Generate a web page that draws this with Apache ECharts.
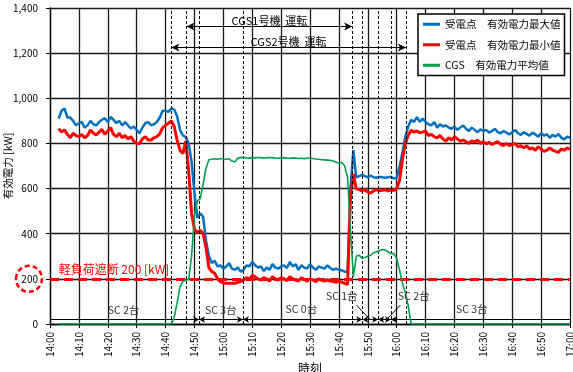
<!DOCTYPE html>
<html><head><meta charset="utf-8">
<script src="https://cdn.jsdelivr.net/npm/echarts@6/dist/echarts.min.js"></script>
<style>html,body{margin:0;padding:0;background:#fff}#c{width:573px;height:372px}</style>
</head><body><div id="c"></div>
<script>
// ---- data (minutes after 14:00; one value per minute from startMinute) ----
const startMinute = 3;
const timeLabels = ['14:00','14:10','14:20','14:30','14:40','14:50','15:00','15:10','15:20','15:30','15:40','15:50','16:00','16:10','16:20','16:30','16:40','16:50','17:00'];
const seriesNames = ['受電点　有効電力最大値','受電点　有効電力最小値','CGS　有効電力平均値'];
const maxPower = [
 910,945,955,915,915,900,880,890,895,870,
 880,900,885,880,895,905,912,895,917,905,
 890,900,880,895,880,866,875,860,845,870,
 890,895,880,885,895,915,945,945,940,955,
 950,920,860,835,829,800,720,580,470,490,
 475,370,300,270,280,255,260,245,255,270,
 245,240,250,232,240,260,255,275,260,250,
 255,235,250,240,265,250,245,255,260,248,
 275,255,265,240,260,250,245,265,250,240,
 255,250,245,260,248,240,245,240,238,232,
 232,600,770,650,655,660,655,650,658,650,
 648,652,650,648,650,652,645,648,696,760,
 830,875,905,895,917,895,910,895,885,880,
 895,870,885,875,880,870,865,875,860,870,
 880,865,855,870,860,850,862,855,860,848,
 855,865,850,845,855,848,840,850,860,845,
 838,850,842,835,848,840,830,845,835,840,
 825,838,830,842,825,818,830,825];
const minPower = [
 865,850,860,840,825,845,835,830,840,825,
 835,860,845,838,850,862,840,855,870,840,
 830,845,825,835,820,830,810,800,800,820,
 830,815,815,825,830,843,870,880,890,900,
 875,815,770,755,810,680,490,420,405,415,
 400,340,250,232,225,200,188,182,180,180,
 180,180,185,188,195,205,200,215,210,200,
 195,205,200,190,210,200,195,205,200,192,
 210,200,195,190,205,198,190,200,195,188,
 200,195,190,195,190,188,185,190,185,180,
 175,560,665,600,595,590,595,585,580,590,
 595,590,592,595,590,593,592,600,637,730,
 800,835,858,850,855,848,850,855,835,840,
 830,825,835,820,810,825,815,830,820,810,
 815,808,800,812,805,815,800,808,798,805,
 795,802,808,795,790,800,790,795,800,785,
 790,780,790,775,780,770,785,775,765,770,
 780,770,765,760,775,770,780,775];
const cgsAverage = [
 0,0,0,0,0,0,0,0,0,0,
 0,0,0,0,0,0,0,0,0,0,
 0,0,0,0,0,0,0,0,0,0,
 0,0,0,0,0,0,0,0,0,0,
 30,95,165,188,195,198,300,480,545,555,
 620,690,728,730,732,730,733,731,730,732,
 722,718,735,737,738,736,735,737,736,738,
 737,735,736,738,737,735,734,736,737,735,
 734,736,735,733,734,732,735,734,733,731,
 730,728,727,726,725,722,718,712,716,700,
 650,420,210,300,305,292,295,300,305,315,
 320,325,330,328,320,312,313,290,240,180,
 140,80,0,0,0,0,0,0,0,0,
 0,0,0,0,0,0,0,0,0,0,
 0,0,0,0,0,0,0,0,0,0,
 0,0,0,0,0,0,0,0,0,0,
 0,0,0,0,0,0,0,0,0,0,
 0,0,0,0,0,0,0,0];
const eventTimes = [42, 47.3, 51.6, 66.8, 104.6, 108.1, 113.6, 118, 123.2];
const loadShedLevel = 200;
const cgsRuns = [
  {text: 'CGS1号機  運転', from: 47.3, to: 104.6},
  {text: 'CGS2号機  運転', from: 42, to: 123.2}
];
const scBoundaries = [51.6, 66.8, 108.1, 113.6, 118];
const scTexts = ['SC 2台','SC 3台','SC 0台','SC 1台','SC 2台','SC 3台'];
const shedText = '軽負荷遮断 200 [kW]';
const yName = '有効電力 [kW]';
const xName = '時刻';

// ---- annotation placement (data coordinates) ----
const cgsLevels = [1318, 1225];
const scLevel = 20;
const scTextPos = [[25.5,62],[59.1,62],[87,66],[101,124],[125.9,124],[146,66]];
const scLeaders = [[[106.1,84],[110.9,18]], [[121.3,84],[116.4,18]]];

const FONT = "'Noto Sans CJK JP', 'Noto Sans', sans-serif";
const pairs = arr => arr.map((v, i) => [startMinute + i, v]);

const chart = echarts.init(document.getElementById('c'), null, {renderer: 'canvas'});

const lineMarks = [];
eventTimes.forEach(t => lineMarks.push({xAxis: t, lineStyle: {color: '#000', width: 1, type: [3, 2]}}));
cgsRuns.forEach((r, i) => lineMarks.push([
  {coord: [r.from, cgsLevels[i]], symbol: 'arrow', symbolSize: [6, 8], lineStyle: {color: '#000', width: 1, type: 'solid'}},
  {coord: [r.to, cgsLevels[i]], symbol: 'arrow', symbolSize: [6, 8]}
]));
lineMarks.push([
  {coord: [0, scLevel], symbol: 'none', lineStyle: {color: '#000', width: 1.2, type: 'solid'}},
  {coord: [180, scLevel], symbol: 'none'}
]);
scBoundaries.forEach(b => {
  [-3, 3].forEach(d => lineMarks.push([
    {coord: [b + d, scLevel], symbol: 'none', lineStyle: {color: '#000', width: 1, type: 'solid'}},
    {coord: [b, scLevel], symbol: 'arrow', symbolSize: [5, 6]}
  ]));
});
scLeaders.forEach(l => lineMarks.push([
  {coord: l[0], symbol: 'none', lineStyle: {color: '#000', width: 1, type: 'solid'}},
  {coord: l[1], symbol: 'none'}
]));

const option = {
  animation: false,
  textStyle: {fontFamily: FONT},
  grid: {left: 50, right: 3, top: 8, bottom: 48, containLabel: false, outerBoundsMode: 'none'},
  legend: {
    data: seriesNames,
    orient: 'vertical',
    left: 418, top: 14,
    padding: [5, 4, 5, 5],
    itemGap: 10,
    itemWidth: 17, itemHeight: 3,
    icon: 'rect',
    backgroundColor: '#fff',
    borderColor: '#000', borderWidth: 1.5,
    textStyle: {fontSize: 10.5, color: '#000', fontFamily: FONT}
  },
  xAxis: {
    type: 'value', min: 0, max: 180, interval: 10,
    name: xName, nameLocation: 'middle', nameGap: 38, nameMoveOverlap: false,
    nameTextStyle: {fontSize: 12, color: '#000', fontFamily: FONT},
    axisLine: {lineStyle: {color: '#000', width: 1.3}},
    axisTick: {show: true, length: 4, lineStyle: {color: '#000'}},
    axisLabel: {rotate: 90, margin: 8, fontSize: 10, color: '#000', fontFamily: FONT,
      formatter: v => timeLabels[Math.round(v / 10)]},
    splitLine: {show: true, lineStyle: {color: '#1a1a1a', width: 1.3}}
  },
  yAxis: {
    type: 'value', min: 0, max: 1400, interval: 200,
    name: yName, nameLocation: 'middle', nameGap: 37, nameMoveOverlap: false,
    nameTextStyle: {fontSize: 10.5, color: '#000', fontFamily: FONT},
    axisLine: {show: true, lineStyle: {color: '#000', width: 1.3}},
    axisTick: {show: true, length: 4, lineStyle: {color: '#000'}},
    axisLabel: {margin: 12, fontSize: 10, color: '#000', fontFamily: FONT,
      formatter: v => v.toLocaleString('en-US')},
    splitLine: {show: true, lineStyle: {color: '#1a1a1a', width: 1.3}}
  },
  series: [
    {name: 'annotations', type: 'line', data: [], z: 1, silent: true,
     markLine: {silent: true, animation: false, symbol: ['none', 'none'], label: {show: false}, data: lineMarks}},
    {name: seriesNames[0], type: 'line', data: pairs(maxPower), symbol: 'none', z: 3,
     itemStyle: {color: '#0070C0'}, lineStyle: {color: '#0070C0', width: 2.5}},
    {name: seriesNames[1], type: 'line', data: pairs(minPower), symbol: 'none', z: 4,
     itemStyle: {color: '#FF0000'}, lineStyle: {color: '#FF0000', width: 3}},
    {name: seriesNames[2], type: 'line', data: pairs(cgsAverage), symbol: 'none', z: 5,
     itemStyle: {color: '#00A050'}, lineStyle: {color: '#00A050', width: 1.6}},
    {name: 'shed', type: 'line', data: [], z: 6, silent: true,
     markLine: {silent: true, animation: false, symbol: ['none', 'none'], label: {show: false},
       data: [{yAxis: loadShedLevel, lineStyle: {color: '#FF0000', width: 3, type: [9, 5]}}]}}
  ]
};
chart.setOption(option);

const px = (t, v) => chart.convertToPixel({gridIndex: 0}, [t, v]);
const graphics = [];
cgsRuns.forEach((r, i) => {
  const p = px((r.from + r.to) / 2, cgsLevels[i]);
  graphics.push({type: 'text', z: 10, style: {text: r.text, x: p[0], y: p[1] - 6, align: 'center', verticalAlign: 'middle',
    fill: '#000', fontSize: 11, fontFamily: FONT}});
});
scTexts.forEach((s, i) => {
  const p = px(scTextPos[i][0], scTextPos[i][1]);
  graphics.push({type: 'text', z: 10, style: {text: s, x: p[0], y: p[1], align: 'center', verticalAlign: 'middle',
    fill: '#333', fontSize: 10.5, fontFamily: FONT}});
});
const sp = px(3, 242);
graphics.push({type: 'text', z: 10, style: {text: shedText, x: sp[0], y: sp[1], align: 'left', verticalAlign: 'middle',
  fill: '#FF0000', fontSize: 12, fontFamily: FONT}});
const cp = px(0, loadShedLevel);
graphics.push({type: 'ellipse', z: 10, shape: {cx: cp[0] - 21, cy: cp[1], rx: 13, ry: 13},
  style: {fill: 'none', stroke: '#FF0000', lineWidth: 2.5, lineDash: [5, 3]}});
chart.setOption({graphic: graphics});
</script></body></html>
